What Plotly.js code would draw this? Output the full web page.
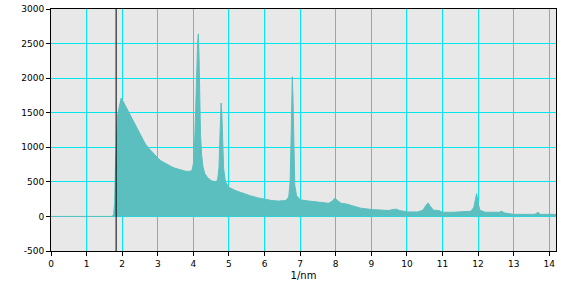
<!DOCTYPE html>
<html><head><meta charset="utf-8">
<script src="https://cdn.plot.ly/plotly-3.0.1.min.js"></script>
<style>html,body{margin:0;padding:0;background:#fff}#chart{width:572px;height:283px}</style>
</head><body><div id="chart"></div>
<script>
const freq = [0,1.72,1.76,1.79,1.81,1.84,1.87,1.91,1.94,1.97,2.00,2.04,2.08,2.14,2.20,2.27,2.35,2.45,2.54,2.64,2.73,2.83,2.92,3.01,3.10,3.20,3.30,3.39,3.48,3.58,3.67,3.76,3.85,3.92,3.97,4.00,4.03,4.06,4.08,4.10,4.12,4.14,4.16,4.18,4.20,4.23,4.27,4.32,4.40,4.50,4.60,4.68,4.72,4.75,4.78,4.80,4.82,4.85,4.90,5.00,5.20,5.40,5.60,5.80,6.00,6.20,6.40,6.60,6.68,6.72,6.75,6.78,6.80,6.82,6.85,6.90,7.00,7.20,7.50,7.80,7.90,7.98,8.05,8.15,8.30,8.50,8.70,9.00,9.30,9.50,9.60,9.70,9.80,10.00,10.30,10.45,10.55,10.60,10.65,10.75,10.90,11.00,11.30,11.60,11.80,11.88,11.93,11.96,12.00,12.05,12.20,12.60,12.65,12.75,13.00,13.60,13.68,13.75,14.20];
const intensity = [0,0,30,200,700,1250,1450,1560,1640,1710,1690,1650,1610,1540,1480,1420,1330,1226,1140,1058,995,937,885,841,800,768,740,719,698,681,668,657,650,655,680,760,950,1350,1750,2150,2500,2640,2300,1600,1200,900,720,620,560,520,500,520,700,1200,1640,1500,1100,700,500,420,370,330,300,270,245,230,222,230,280,500,1200,2020,1700,900,450,300,240,225,205,190,220,265,230,190,180,145,120,100,90,85,100,105,85,65,65,90,170,195,150,90,85,60,60,65,75,130,250,330,200,90,60,60,75,50,30,30,60,30,30];
const markerX = 1.83;
const xTicks = [0,1,2,3,4,5,6,7,8,9,10,11,12,13,14];
const yTicks = [-500,0,500,1000,1500,2000,2500,3000];

const gridC = '#00e8ee';
Plotly.newPlot('chart', [{
  x: freq, y: intensity, type: 'scatter', mode: 'lines',
  fill: 'tozeroy', fillcolor: '#5bbfbf',
  line: {color: '#5bbfbf', width: 1}, hoverinfo: 'skip'
}], {
  width: 572, height: 283,
  margin: {l: 51, r: 16, t: 9, b: 32},
  paper_bgcolor: '#ffffff', plot_bgcolor: '#e8e8e8',
  showlegend: false,
  font: {family: 'DejaVu Sans, sans-serif', size: 9, color: '#000'},
  xaxis: {
    range: [0, 14.19], tickvals: xTicks, ticktext: xTicks.map(String),
    showgrid: true, gridcolor: gridC, gridwidth: 1, zeroline: false,
    showline: true, linecolor: '#000', linewidth: 1, mirror: true,
    ticks: 'outside', ticklen: 4, tickcolor: '#000',
    title: {text: '1/nm', font: {size: 10}, standoff: 4}
  },
  yaxis: {
    range: [-500, 3000], tickvals: yTicks, ticktext: yTicks.map(String),
    showgrid: true, gridcolor: gridC, gridwidth: 1, zeroline: false,
    showline: true, linecolor: '#000', linewidth: 1, mirror: true,
    ticks: 'outside', ticklen: 4, tickcolor: '#000'
  },
  shapes: [{type: 'line', xref: 'x', yref: 'paper', x0: markerX, x1: markerX, y0: 0, y1: 1,
    line: {color: '#000', width: 1}}]
}, {staticPlot: true, displayModeBar: false});
</script></body></html>
